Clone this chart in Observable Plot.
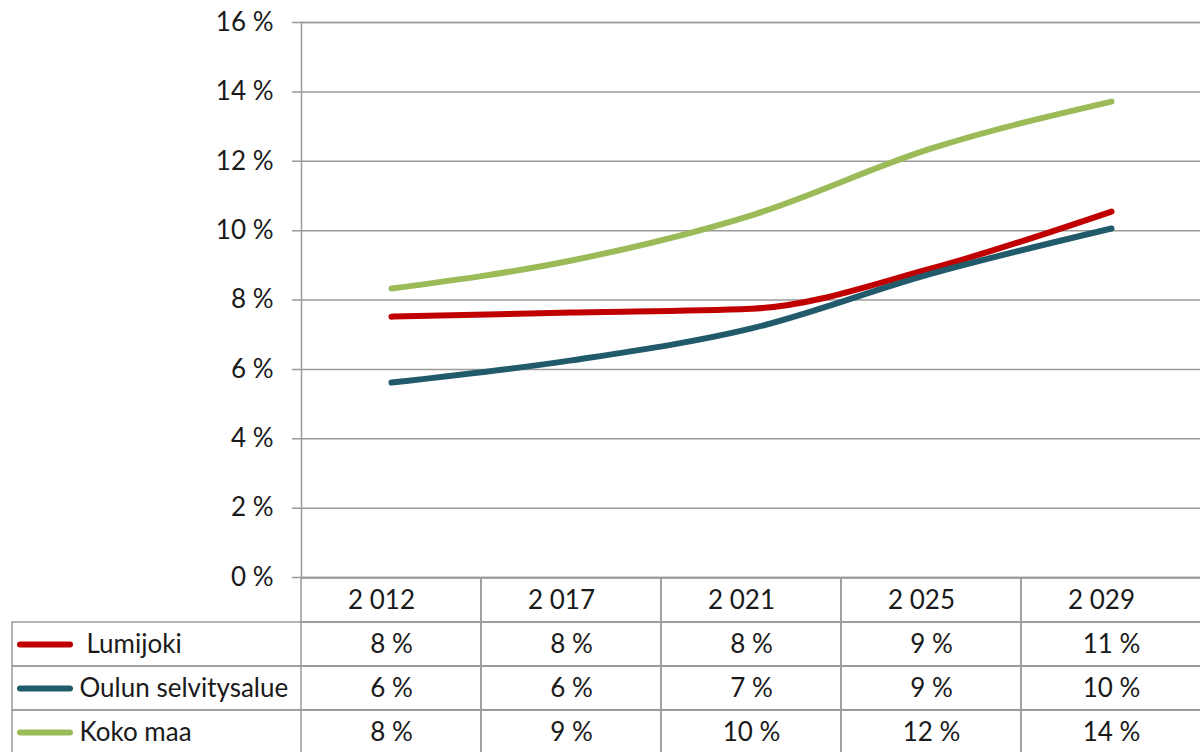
<!DOCTYPE html>
<html><head><meta charset="utf-8">
<script src="https://cdn.jsdelivr.net/npm/d3@7"></script>
<script src="https://cdn.jsdelivr.net/npm/@observablehq/plot@0.6"></script>
<style>
html,body{margin:0;padding:0;background:#fff;overflow:hidden;}
#wrap{position:relative;width:1200px;height:752px;overflow:hidden;}
#chart,#table{position:absolute;left:0;}
#chart{top:0}
#table{top:577px}
</style></head><body><div id="wrap"><div id="chart"></div><div id="table"></div></div>
<script>
const years = [2012, 2017, 2021, 2025, 2029];
const yearLabels = ["2\u00a0012", "2\u00a0017", "2\u00a0021", "2\u00a0025", "2\u00a0029"];
const seriesNames = ["Lumijoki", "Oulun selvitysalue", "Koko maa"];
const seriesColors = ["#C00000", "#215A6A", "#9BBB59"];
const lumijoki = [7.52, 7.64, 7.75, 8.91, 10.55];
const oulu = [5.62, 6.26, 7.18, 8.76, 10.06];
const kokoMaa = [8.33, 9.14, 10.44, 12.37, 13.72];
const yTicks = [0, 2, 4, 6, 8, 10, 12, 14, 16];

const values = [lumijoki, oulu, kokoMaa];
const data = seriesNames.flatMap((s, i) => years.map((yr, j) => ({series: s, year: yr, value: values[i][j]})));
const pct = v => `${v}\u00a0%`;
const FONT = "Lato, 'Open Sans', sans-serif";
const GRID = "#9a9a9a";
const INK = "#1a1a1a";

const chart = Plot.plot({
  width: 1200, height: 578,
  marginTop: 22, marginBottom: 1, marginLeft: 301, marginRight: -1,
  style: {fontFamily: FONT, fontSize: "26px", color: INK, background: "transparent", overflow: "visible"},
  x: {type: "band", domain: years, padding: 0, axis: null},
  y: {domain: [0, 16], axis: null},
  color: {domain: seriesNames, range: seriesColors},
  marks: [
    Plot.ruleY(yTicks, {stroke: GRID, strokeWidth: 1.5, insetLeft: -9}),
    Plot.frame({stroke: GRID, strokeWidth: 1.5}),
    Plot.axisY(yTicks, {tickSize: 0, tickPadding: 28, tickFormat: pct, fill: INK, label: null}),
    Plot.line(data, {x: "year", y: "value", z: "series", stroke: "series", strokeWidth: 6, curve: "monotone-x", strokeLinecap: "round", strokeLinejoin: "round"})
  ]
});
document.getElementById("chart").appendChild(chart);

const rows = ["header", ...seriesNames];
const tableCells = rows.flatMap(r => years.map((yr, j) => ({
  row: r, year: yr, header: r === "header",
  text: r === "header" ? yearLabels[j] : pct(Math.round(values[seriesNames.indexOf(r)][j]))
})));

const table = Plot.plot({
  width: 1200, height: 178,
  marginTop: 0, marginBottom: 0, marginLeft: 12, marginRight: -2,
  style: {fontFamily: FONT, fontSize: "26px", color: INK, background: "transparent", overflow: "visible"},
  x: {type: "band", domain: years, range: [301, 1201], padding: 0, axis: null},
  y: {type: "band", domain: rows, range: [0.5, 176.5], padding: 0, axis: null},
  color: {domain: seriesNames, range: seriesColors},
  marks: [
    Plot.cell(seriesNames, {y: d => d, stroke: GRID, strokeWidth: 1.5, fill: "none"}),
    Plot.cell(tableCells, {x: "year", y: "row", stroke: GRID, strokeWidth: 1.5, fill: "none"}),
    Plot.ruleY(seriesNames, {y: d => d, stroke: d => d, strokeWidth: 6, strokeLinecap: "round", insetLeft: 8, insetRight: 1132}),
    Plot.text(seriesNames.filter((d, i) => i === 0), {y: d => d, text: d => d, frameAnchor: "left", dx: 74, fill: INK}),
    Plot.text(seriesNames.filter((d, i) => i > 0), {y: d => d, text: d => d, frameAnchor: "left", dx: 67, fill: INK}),
    Plot.text(tableCells.filter(d => d.header), {x: "year", y: "row", text: "text", dx: -10, fill: INK}),
    Plot.text(tableCells.filter(d => !d.header), {x: "year", y: "row", text: "text", fill: INK})
  ]
});
document.getElementById("table").appendChild(table);
</script>
</body></html>
